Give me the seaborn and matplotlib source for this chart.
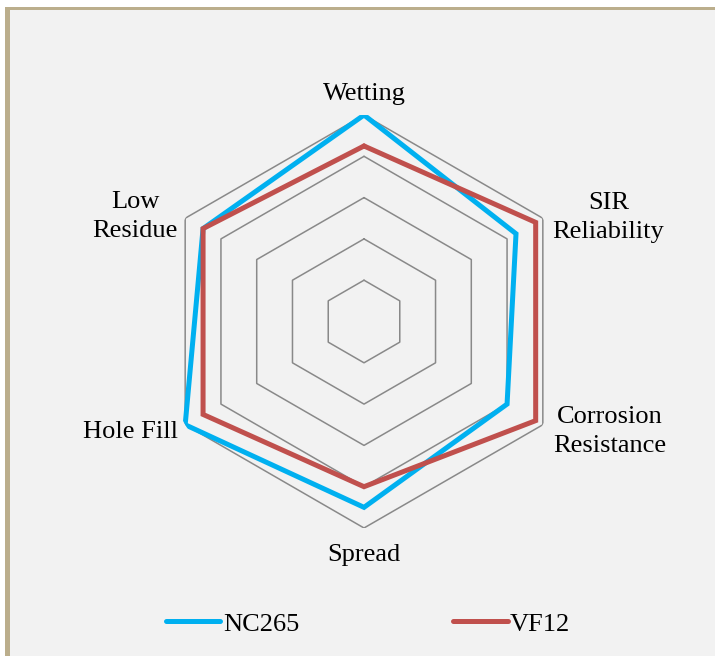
import numpy as np
import pandas as pd
import matplotlib
matplotlib.use("Agg")
import matplotlib.pyplot as plt
from matplotlib.patches import Rectangle
import seaborn as sns

# categories go clockwise from the top
categories = ["Wetting", "SIR\nReliability", "Corrosion\nResistance",
              "Spread", "Hole Fill", "Low\nResidue"]
nc265 = [5.0, 4.25, 4.0, 4.5, 5.0, 4.5]
vf12 = [4.25, 4.8, 4.8, 4.0, 4.5, 4.5]
ring_levels = [1, 2, 3, 4, 5]
series_names = ["NC265", "VF12"]
colors = {"NC265": "#00B0F0", "VF12": "#C0504D"}

sns.set_style("white")
plt.rcParams["font.family"] = ["Liberation Serif", "DejaVu Serif"]
plt.rcParams["text.color"] = "black"

n = len(categories)
angles = np.linspace(0, 2 * np.pi, n, endpoint=False)
angles_closed = np.append(angles, 2 * np.pi)

rows = []
for name, vals in zip(series_names, [nc265, vf12]):
    closed = list(vals) + [vals[0]]
    for th, v in zip(angles_closed, closed):
        rows.append({"theta": th, "value": v, "Flux": name})
df = pd.DataFrame(rows)

fig = plt.figure(figsize=(7.15, 6.56), dpi=100)
fig.patch.set_facecolor("white")

# chart area background and the tan frame on left / top
W, H = 715, 656
for (x0, y0, w, h, c) in [(9, 0, W, H - 9, "#F2F2F2"),
                          (5, 0, 4.5, H - 7, "#BBAE8C"),
                          (5, H - 9.5, W, 2.5, "#BBAE8C")]:
    fig.add_artist(Rectangle((x0 / W, y0 / H), w / W, h / H, transform=fig.transFigure,
                             facecolor=c, edgecolor="none", zorder=-10))

ax = fig.add_axes([0.2203, 0.1951, 0.5776, 0.6296], projection="polar")
ax.set_facecolor("none")
ax.set_zorder(1)
ax.set_theta_offset(np.pi / 2)
ax.set_theta_direction(-1)

# hexagonal grid rings
for r in ring_levels:
    ax.plot(angles_closed, [r] * (n + 1), color="#898989", lw=1.1, zorder=1)

sns.lineplot(data=df, x="theta", y="value", hue="Flux", palette=colors,
             sort=False, estimator=None, lw=3.6, ax=ax, zorder=3,
             solid_joinstyle="miter")

ax.set_ylim(0, 5)
ax.set_xticks([])
ax.set_yticks([])
ax.grid(False)
ax.spines["polar"].set_visible(False)
ax.set_xlabel("")
ax.set_ylabel("")

# axis labels (nudged down a couple of pixels)
label_pos = [(0, 5.58, "center"), (np.radians(60.5), 5.25, "left"),
             (np.radians(119.5), 5.27, "left"), (np.pi, 5.58, "center"),
             (np.radians(240), 5.21, "right"), (np.radians(300), 5.21, "right")]
for lab, (th, r, ha) in zip(categories, label_pos):
    ax.annotate(lab, xy=(th, r), xytext=(0, -2), textcoords="offset points",
                ha=ha, va="center", multialignment="center",
                fontsize=19, color="black", linespacing=1.42,
                annotation_clip=False)

handles, labels = ax.get_legend_handles_labels()
ax.get_legend().remove()
leg = fig.legend(handles, labels, loc="center", bbox_to_anchor=(0.515, 0.049),
                 ncol=2, frameon=False, fontsize=19, handlelength=2.05,
                 handletextpad=0.1, columnspacing=5.85)
for h in leg.get_lines():
    h.set_linewidth(3.6)
    h.set_solid_capstyle("round")
for t in leg.get_texts():
    t.set_color("black")

fig.savefig("out.png", dpi=100, facecolor=fig.get_facecolor())
